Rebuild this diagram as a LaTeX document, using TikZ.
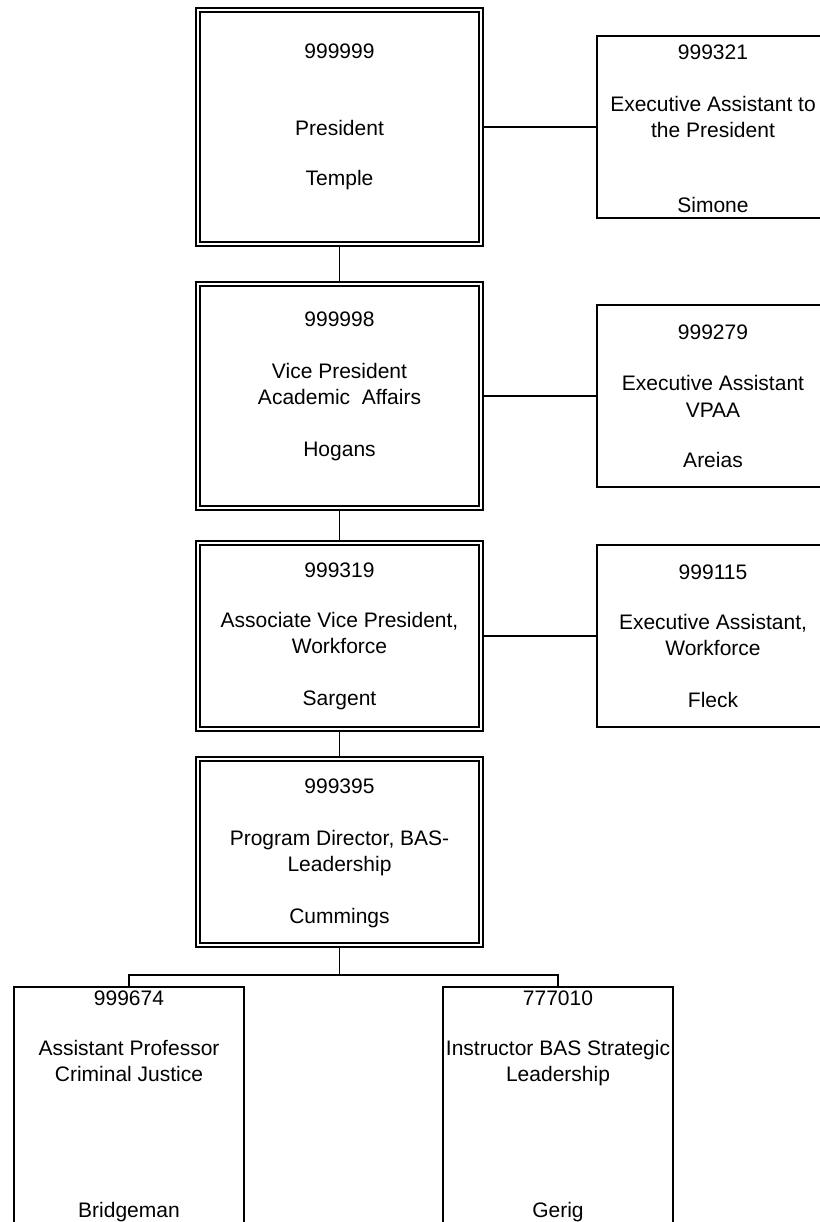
\documentclass[tikz,border=0pt]{standalone}
\usepackage{fontspec}
\setmainfont{Liberation Sans}
\begin{document}
\begin{tikzpicture}[x=0.75pt,y=-0.75pt,
  mainbox/.style={draw,line width=1.15pt,double,double distance=2pt,outer sep=2.15pt,inner sep=0pt,minimum width=212.3pt},
  sidebox/.style={draw,line width=1.25pt,inner sep=0pt,minimum width=174.3pt,minimum height=136.7pt},
  childbox/.style={draw,line width=1.25pt,inner sep=0pt,minimum width=172.5pt,minimum height=189pt},
  link/.style={line width=1.3pt},
  txt/.style={inner sep=0pt,anchor=base,font=\fontsize{15.75pt}{19.5pt}\selectfont}]
\useasboundingbox (0,0) rectangle (820,1222);
\clip (0,0) rectangle (820,1222);
% main column
\node[mainbox,minimum height=175.6pt] (b1) at (339.5,127) {};
\node[mainbox,minimum height=168pt] (b2) at (339.5,396) {};
\node[mainbox,minimum height=139.6pt] (b3) at (339.5,636) {};
\node[mainbox,minimum height=139.6pt] (b4) at (339.5,852) {};
% side boxes
\node[sidebox] (a1) at (713,127) {};
\node[sidebox] (a2) at (713,396) {};
\node[sidebox] (a3) at (713,636) {};
% children
\node[childbox] (c1) at (129,1113) {};
\node[childbox] (c2) at (558,1113) {};
% connectors
\draw[link] (b1) -- (b2);
\draw[link] (b2) -- (b3);
\draw[link] (b3) -- (b4);
\draw[link] (b1.east) -- (a1.west);
\draw[link] (b2.east) -- (a2.west);
\draw[link] (b3.east) -- (a3.west);
\coordinate (bus) at (339.5,975);
\draw[link] (b4.south) -- (bus);
\draw[link] (c1.north) |- (bus) -| (c2.north);
% texts box 1
\node[txt] (t1a) at (339.5,58.5) {999999};
\node[txt] (t1b) at (339.5,135.5) {President};
\node[txt] (t1c) at (339.5,185.5) {Temple};
% a1
\node[txt] (s1a) at (713,59.5) {999321};
\node[txt] (s1b) at (713,111.5) {Executive Assistant to};
\node[txt] (s1c) at (713,137.5) {the President};
\node[txt] (s1d) at (713,212.5) {Simone};
% box 2
\node[txt] (t2a) at (339.5,326.5) {999998};
\node[txt] (t2b) at (339.5,378.5) {Vice President};
\node[txt] (t2c) at (339.5,404.5) {Academic\ \ Affairs};
\node[txt] (t2d) at (339.5,456.5) {Hogans};
% a2
\node[txt] (s2a) at (713,339.5) {999279};
\node[txt] (s2b) at (713,390.5) {Executive Assistant};
\node[txt] (s2c) at (713,417.5) {VPAA};
\node[txt] (s2d) at (713,467.5) {Areias};
% box 3
\node[txt] (t3a) at (339.5,577.5) {999319};
\node[txt] (t3b) at (339.5,627.5) {Associate Vice President,};
\node[txt] (t3c) at (339.5,653.5) {Workforce};
\node[txt] (t3d) at (339.5,705.5) {Sargent};
% a3
\node[txt] (s3a) at (713,579.5) {999115};
\node[txt] (s3b) at (713,629.5) {Executive Assistant,};
\node[txt] (s3c) at (713,655.5) {Workforce};
\node[txt] (s3d) at (713,707.5) {Fleck};
% box 4
\node[txt] (t4a) at (339.5,793.5) {999395};
\node[txt] (t4b) at (339.5,845.5) {Program Director, BAS-};
\node[txt] (t4c) at (339.5,871.5) {Leadership};
\node[txt] (t4d) at (339.5,923.5) {Cummings};
% children texts
\node[txt] (c1a) at (129,1005.5) {999674};
\node[txt] (c1b) at (129,1055.5) {Assistant Professor};
\node[txt] (c1c) at (129,1081.5) {Criminal Justice};
\node[txt] (c1d) at (129,1217.5) {Bridgeman};
\node[txt] (c2a) at (558,1005.5) {777010};
\node[txt] (c2b) at (558,1055.5) {Instructor BAS Strategic};
\node[txt] (c2c) at (558,1081.5) {Leadership};
\node[txt] (c2d) at (558,1217.5) {Gerig};
\end{tikzpicture}
\end{document}
